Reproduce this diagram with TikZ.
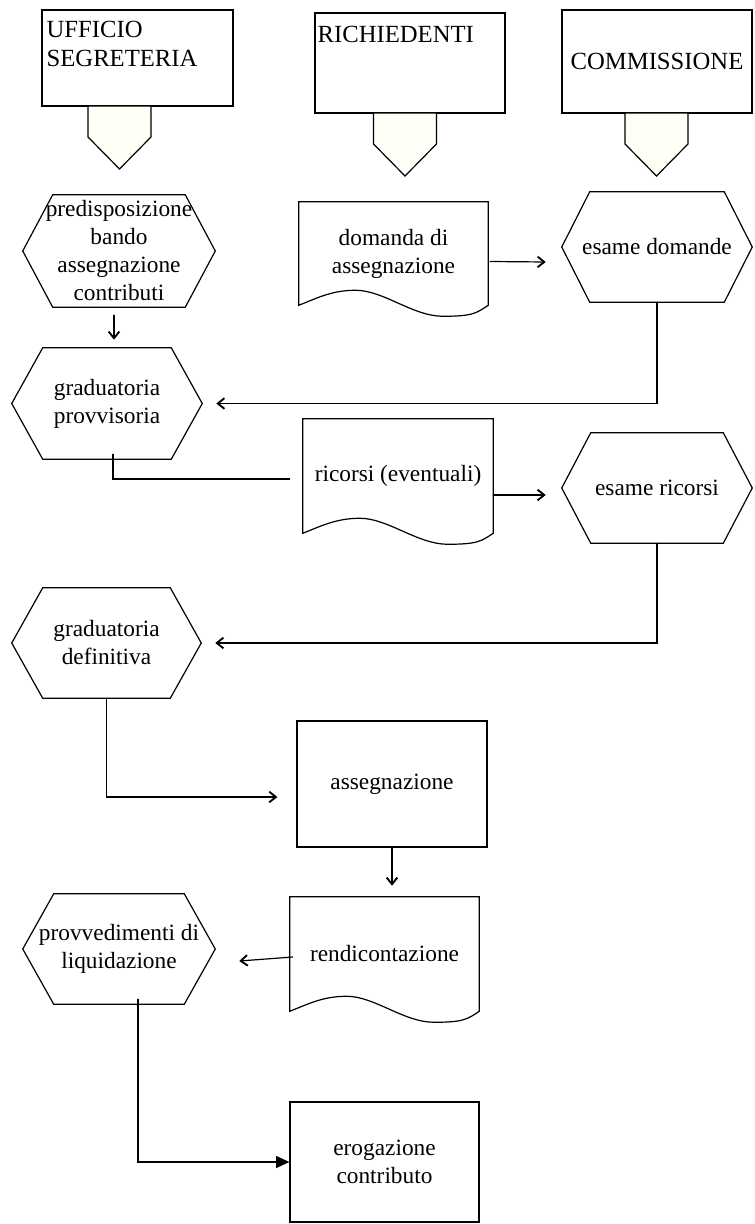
\documentclass[tikz,border=0pt]{standalone}
\usepackage{fontspec}
\setmainfont{Liberation Serif}
\usetikzlibrary{arrows.meta,calc}

\newcommand{\flowfont}{\fontsize{17.5}{21}\selectfont}
\newcommand{\headfont}{\fontsize{18.5}{21.75}\selectfont}
\def\px{0.75pt}

\tikzset{
  frame/.style={draw, line width=0.9pt, line join=miter},
  tab/.style={frame, fill=yellow!3},
  conn/.style={line width=0.9pt},
  blk/.style={inner sep=0pt, align=center, font=\flowfont},
  head/.style={inner sep=0pt, align=left, font=\headfont},
  size/.style 2 args={minimum width=#1*\px, minimum height=#2*\px},
}

% hexagon round a node, #2 = inset of the top and bottom edges
\newcommand{\hexframe}[2]{%
  \draw[frame] (#1.west) -- ($(#1.north west)+(#2,0)$) -- ($(#1.north east)+(-#2,0)$)
    -- (#1.east) -- ($(#1.south east)+(-#2,0)$) -- ($(#1.south west)+(#2,0)$) -- cycle;}

% document sheet with a wavy lower edge
\newcommand{\docframe}[1]{%
  \draw[frame] (#1.south west) -- (#1.north west) -- (#1.north east) -- (#1.south east)
    .. controls +(-12,8) and +(30,0) .. ($(#1.south west)!0.76!(#1.south east)+(0,11)$)
    .. controls +(-30,0) and +(28,0) .. ($(#1.south west)!0.3!(#1.south east)+(0,-15)$)
    .. controls +(-24,0) and +(18,-7) .. (#1.south west) -- cycle;}

\begin{document}
\begin{tikzpicture}[x=0.75pt, y=-0.75pt,
    >={Straight Barb[length=5pt,width=8pt,line width=1.4pt]}, line cap=round]

  \useasboundingbox (0,0) rectangle (754,1224);

  % offices on top
  \node[frame, size={191}{96}] (uff) at (137.5,58) {};
  \node[head, anchor=north west] (uffT) at ($(uff.north west)+(5,12)$) {UFFICIO\\SEGRETERIA};
  \node[frame, size={190}{100}] (rich) at (410,63) {};
  \node[head, anchor=north west] (richT) at ($(rich.north west)+(3,14)$) {RICHIEDENTI};
  \node[frame, head, size={190}{103}] (comm) at (657,61.5) {COMMISSIONE};

  % pointers below the offices
  \foreach \cx/\yt in {119.5/106, 405/113, 656.5/113}
    \draw[tab] (\cx-31.5,\yt) -- (\cx+31.5,\yt) -- (\cx+31.5,\yt+31)
      -- (\cx,\yt+63) -- (\cx-31.5,\yt+31) -- cycle;

  % steps
  \node[blk, size={192}{112}] (prep) at (119,251) {predisposizione\\bando\\assegnazione\\contributi};
  \hexframe{prep}{30}
  \node[blk, size={189}{103}] (dom) at (393.5,253.5) {domanda di\\assegnazione};
  \docframe{dom}
  \node[blk, size={190}{110}] (esd) at (657,247) {esame domande};
  \hexframe{esd}{28}

  \node[blk, size={190}{111}] (grp) at (107,403.5) {graduatoria\\provvisoria};
  \hexframe{grp}{31}
  \node[blk, size={190}{114}] (ric) at (398,476) {ricorsi (eventuali)};
  \docframe{ric}
  \node[blk, size={190}{110}] (esr) at (657,488) {esame ricorsi};
  \hexframe{esr}{29}

  \node[blk, size={189}{110}] (grd) at (106.5,643) {graduatoria\\definitiva};
  \hexframe{grd}{31}
  \node[frame, blk, size={190}{126}] (ass) at (392,784) {assegnazione};

  \node[blk, size={192}{110}] (prov) at (119,949) {provvedimenti di\\liquidazione};
  \hexframe{prov}{31}
  \node[blk, size={189}{114}] (ren) at (384.5,954) {rendicontazione};
  \docframe{ren}
  \node[frame, blk, size={189}{120}] (ero) at (384.5,1162) {erogazione\\contributo};

  % connectors
  \draw[conn,->] ($(prep.south)+(-5,8)$) -- ($(grp.north)+(7,-8)$);
  \draw[conn,->] ($(dom.east)+(2,8)$) -- ($(esd.west)+(-16,15)$);
  \draw[conn,->] (esd.south) |- ($(grp.east)+(14,0)$);
  \draw[conn] ($(grp.south)+(6,-5)$) |- ($(ric.west)+(-13,3)$);
  \draw[conn,->] ($(ric.east)+(0,19)$) -- ($(esr.west)+(-16,7)$);
  \draw[conn,->] (esr.south) |- ($(grd.east)+(14,0)$);
  \draw[conn,->] (grd.south) |- ($(ass.west)+(-19,13)$);
  \draw[conn,->] (ass.south) -- ($(ren.north)+(7.5,-11)$);
  \draw[conn,->] ($(ren.west)+(3,3)$) -- ($(prov.east)+(24,12)$);
  \draw[conn,-{Triangle[length=10pt,width=9pt]}] ($(prov.south)+(19,-5)$) |- (ero.west);

\end{tikzpicture}
\end{document}
